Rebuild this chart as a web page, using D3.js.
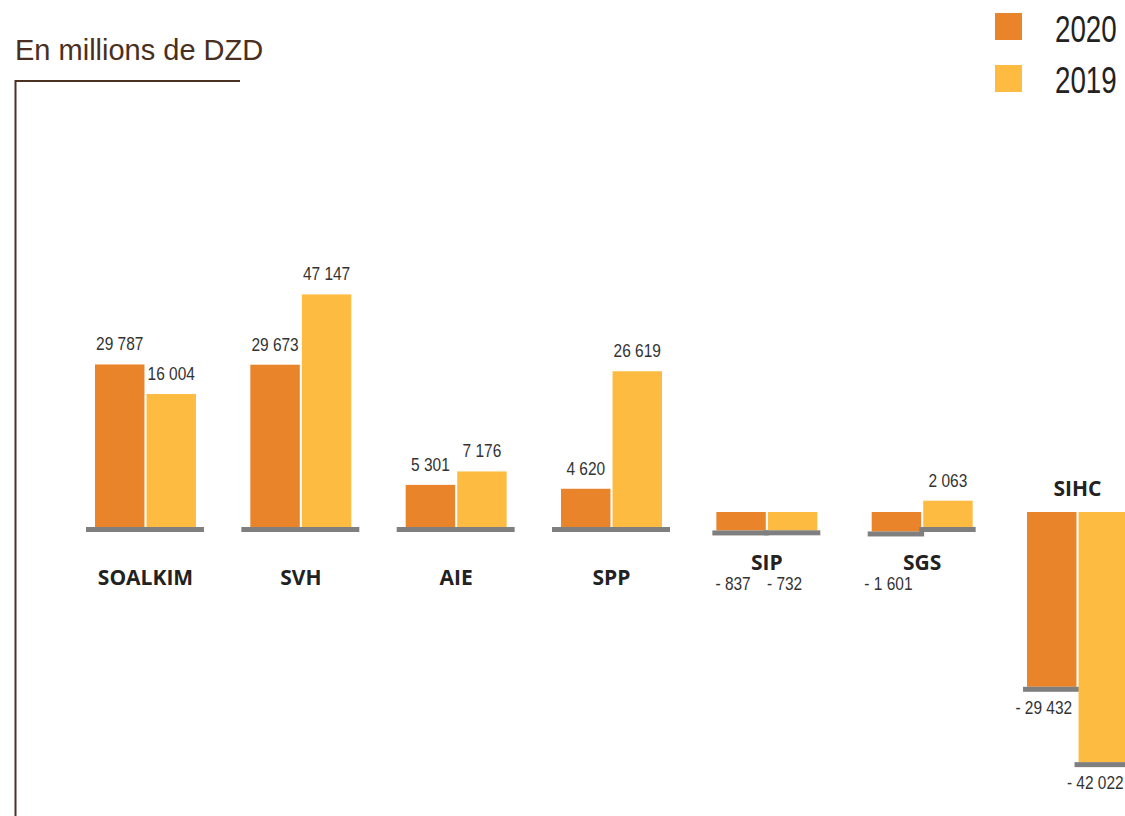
<!DOCTYPE html>
<html>
<head>
<meta charset="utf-8">
<script src="https://cdn.jsdelivr.net/npm/d3@7"></script>
<style>
  body { margin: 0; background: #fff; }
  svg { display: block; }
</style>
</head>
<body>
<svg id="chart" width="1125" height="816"></svg>
<script>
// data
const categories = ['SOALKIM', 'SVH', 'AIE', 'SPP', 'SIP', 'SGS', 'SIHC'];
const years = ['2020', '2019'];
const values2020 = [29787, 29673, 5301, 4620, -837, -1601, -29432];
const values2019 = [16004, 47147, 7176, 26619, -732, 2063, -42022];
const unitLabel = 'En millions de DZD';

const colors = { '2020': '#E9842A', '2019': '#FDBC41' };
const baseGray = '#7f7f80';
const sans = '"Liberation Sans", Arial, sans-serif';

const svg = d3.select('#chart');
const baseline = 527;

// the infographic is not drawn to a single linear scale, so heights go through
// piecewise scales (one for bars rising, one for bars hanging down)
const hUp = d3.scaleLinear()
  .domain([0, 2000, 5000, 7000, 16000, 30000, 47000])
  .range([0, 26, 40, 54, 133, 163, 232]);
const hDown = d3.scaleLinear()
  .domain([0, 500, 2000, 30000, 42000])
  .range([0, 18, 20, 178, 250]);

const x0 = d3.scaleBand()
  .domain(categories)
  .range([95, 1128])
  .paddingInner(0.35)
  .paddingOuter(0);

const x1 = d3.scaleBand()
  .domain(years)
  .range([0, x0.bandwidth()])
  .paddingInner(0.04);

const fmt = v => d3.format(',')(Math.abs(v)).replace(/,/g, ' ');

// condensed text: no narrow font installed, so squeeze Liberation Sans
function narrowText(sel, x, y, size, sx) {
  return sel.append('text')
    .attr('transform', `translate(${x},${y}) scale(${sx},1)`)
    .style('font-family', sans)
    .style('font-size', size + 'px');
}

const rows = categories.map((c, i) => ({
  cat: c,
  bars: [
    { year: '2020', value: values2020[i] },
    { year: '2019', value: values2019[i] }
  ]
}));

// title and bracket
svg.append('text')
  .attr('x', 15)
  .attr('y', 60)
  .style('font-family', sans)
  .style('font-size', '29px')
  .attr('fill', '#4a2f20')
  .text(unitLabel);

svg.append('path')
  .attr('d', 'M240,81 H15.5 V816')
  .attr('fill', 'none')
  .attr('stroke', '#4b3222')
  .attr('stroke-width', 2);

// legend
years.forEach((y, i) => {
  svg.append('rect')
    .attr('x', 995)
    .attr('y', 13 + i * 52)
    .attr('width', 27)
    .attr('height', 27)
    .attr('fill', colors[y]);
  narrowText(svg, 1055, 42 + i * 51, 37, 0.75)
    .attr('fill', '#222')
    .text(y);
});

const NEG_TOP = baseline - 15;

rows.forEach(row => {
  const gx = x0(row.cat);
  const g = svg.append('g').attr('transform', `translate(${gx},0)`);
  const allPos = row.bars.every(b => b.value >= 0);
  const minVal = d3.min(row.bars, b => b.value);

  if (allPos) {
    g.append('rect')
      .attr('x', -9)
      .attr('y', baseline)
      .attr('width', x0.bandwidth() + 17)
      .attr('height', 5)
      .attr('fill', baseGray);
  }

  row.bars.forEach(b => {
    const bx = x1(b.year);
    const w = x1.bandwidth();
    let top, h;
    if (b.value >= 0) {
      h = hUp(b.value);
      top = baseline - h;
    } else {
      h = hDown(-b.value);
      top = NEG_TOP;
    }

    g.append('rect')
      .attr('x', bx)
      .attr('y', top)
      .attr('width', w)
      .attr('height', h)
      .attr('fill', colors[b.year]);

    if (!allPos) {
      const footY = b.value >= 0 ? baseline : top + h;
      g.append('rect')
        .attr('x', bx - 4)
        .attr('y', footY)
        .attr('width', w + 7)
        .attr('height', 5)
        .attr('fill', baseGray);
    }

    // value labels
    if (b.value >= 0) {
      narrowText(g, bx + w / 2, top - 14, 18, 0.86)
        .attr('text-anchor', 'middle')
        .attr('fill', '#333')
        .text(fmt(b.value));
    } else {
      narrowText(g, bx + w / 2 - 8, Math.max(top + h + 27, baseline + 63), 18, 0.86)
        .attr('text-anchor', 'middle')
        .attr('fill', '#333')
        .text('- ' + fmt(b.value));
    }
  });

  // category labels
  let ly = baseline + 58;
  if (minVal < -10000) ly = NEG_TOP - 16;
  else if (minVal < 0) ly = baseline + 43;

  g.append('text')
    .attr('x', x0.bandwidth() / 2)
    .attr('y', ly)
    .attr('text-anchor', 'middle')
    .style('font-family', '"Open Sans", sans-serif')
    .style('font-weight', 700)
    .style('font-size', '21px')
    .attr('fill', '#222')
    .text(row.cat);
});
</script>
</body>
</html>
